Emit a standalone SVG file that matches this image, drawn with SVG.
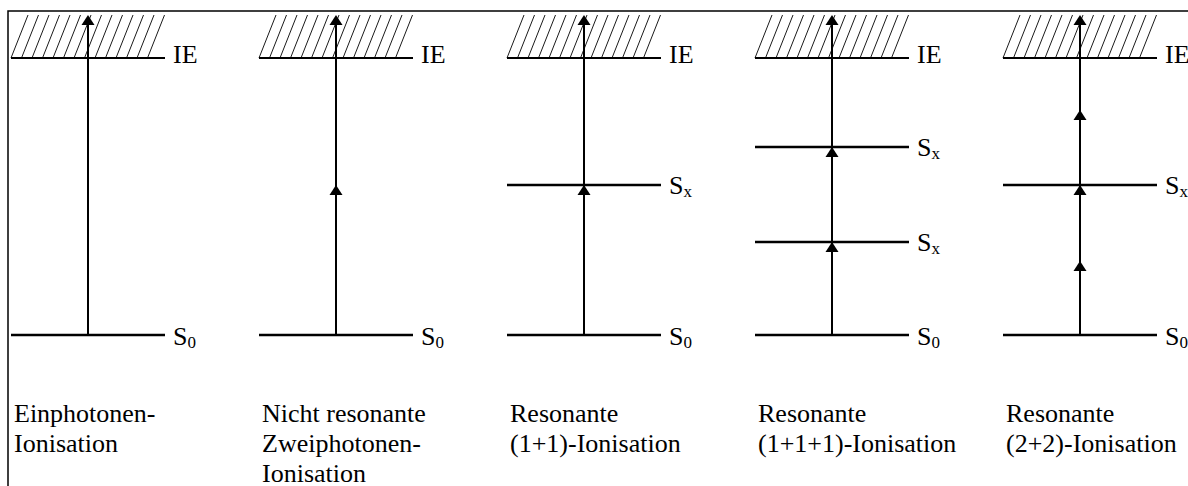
<svg xmlns="http://www.w3.org/2000/svg" xmlns:xlink="http://www.w3.org/1999/xlink" width="1188" height="486" viewBox="0 0 1188 486">
<style>
  .lvl{stroke:#000;stroke-width:2.5;fill:none}
  .ie{stroke:#000;stroke-width:2.2;fill:none}
  .hat{stroke:#000;stroke-width:0.9;fill:none}
  .arr{stroke:#000;stroke-width:2;fill:none}
  .frame{stroke:#000;stroke-width:1.5;fill:none}
  text{font-family:"Liberation Serif","Times New Roman",serif;font-size:26px;fill:#000}
  .sub{font-size:17px}
</style>
<defs>
  <path id="hatch" class="hat" d="M11 58l17-43M21.5 58l17-43M32 58l17-43M42.5 58l17-43M53 58l17-43M63.5 58l17-43M74 58l17-43M84.5 58l17-43M95 58l17-43M105.5 58l17-43M116 58l17-43M126.5 58l17-43M137 58l17-43M147.5 58l17-43"/>
  <path id="ah" d="M0 0L6.5 10H-6.5Z" fill="#000"/>
</defs>
<rect width="1188" height="486" fill="#fff"/>
<path class="frame" d="M8 486V11H1188"/>

<g id="col1">
  <use href="#hatch" x="0"/>
  <line class="ie" x1="11" y1="58" x2="165" y2="58"/>
  <line class="lvl" x1="11" y1="335" x2="165" y2="335"/>
  <text x="173" y="63">IE</text>
  <text x="173" y="345">S<tspan class="sub" dy="3">0</tspan></text>
  <text x="14" y="422">Einphotonen-</text>
  <text x="14" y="452">Ionisation</text>
</g>
<g id="col2">
  <use href="#hatch" x="248"/>
  <line class="ie" x1="259" y1="58" x2="413" y2="58"/>
  <line class="lvl" x1="259" y1="335" x2="413" y2="335"/>
  <text x="421" y="63">IE</text>
  <text x="421" y="345">S<tspan class="sub" dy="3">0</tspan></text>
  <text x="262" y="422">Nicht resonante</text>
  <text x="262" y="452">Zweiphotonen-</text>
  <text x="262" y="482">Ionisation</text>
</g>
<g id="col3">
  <use href="#hatch" x="496"/>
  <line class="ie" x1="507" y1="58" x2="661" y2="58"/>
  <line class="lvl" x1="507" y1="185" x2="661" y2="185"/>
  <line class="lvl" x1="507" y1="335" x2="661" y2="335"/>
  <text x="669" y="63">IE</text>
  <text x="669" y="194">S<tspan class="sub" dy="3">x</tspan></text>
  <text x="669" y="345">S<tspan class="sub" dy="3">0</tspan></text>
  <text x="510" y="422">Resonante</text>
  <text x="510" y="452">(1+1)-Ionisation</text>
</g>
<g id="col4">
  <use href="#hatch" x="744"/>
  <line class="ie" x1="755" y1="58" x2="909" y2="58"/>
  <line class="lvl" x1="755" y1="147" x2="909" y2="147"/>
  <line class="lvl" x1="755" y1="242" x2="909" y2="242"/>
  <line class="lvl" x1="755" y1="335" x2="909" y2="335"/>
  <text x="917" y="63">IE</text>
  <text x="917" y="156">S<tspan class="sub" dy="3">x</tspan></text>
  <text x="917" y="251">S<tspan class="sub" dy="3">x</tspan></text>
  <text x="917" y="345">S<tspan class="sub" dy="3">0</tspan></text>
  <text x="758" y="422">Resonante</text>
  <text x="758" y="452">(1+1+1)-Ionisation</text>
</g>
<g id="col5">
  <use href="#hatch" x="992"/>
  <line class="ie" x1="1003" y1="58" x2="1157" y2="58"/>
  <line class="lvl" x1="1003" y1="185" x2="1157" y2="185"/>
  <line class="lvl" x1="1003" y1="335" x2="1157" y2="335"/>
  <text x="1165" y="63">IE</text>
  <text x="1165" y="194">S<tspan class="sub" dy="3">x</tspan></text>
  <text x="1165" y="345">S<tspan class="sub" dy="3">0</tspan></text>
  <text x="1006" y="422">Resonante</text>
  <text x="1006" y="452">(2+2)-Ionisation</text>
</g>

<g id="connectors">
  <line class="arr" x1="88" y1="335" x2="88" y2="20"/>
  <use href="#ah" x="88" y="15"/>
  <line class="arr" x1="336" y1="335" x2="336" y2="20"/>
  <use href="#ah" x="336" y="15"/>
  <use href="#ah" x="336" y="185"/>
  <line class="arr" x1="584" y1="335" x2="584" y2="20"/>
  <use href="#ah" x="584" y="15"/>
  <use href="#ah" x="584" y="185"/>
  <line class="arr" x1="832" y1="335" x2="832" y2="20"/>
  <use href="#ah" x="832" y="15"/>
  <use href="#ah" x="832" y="147"/>
  <use href="#ah" x="832" y="242"/>
  <line class="arr" x1="1080" y1="335" x2="1080" y2="20"/>
  <use href="#ah" x="1080" y="15"/>
  <use href="#ah" x="1080" y="110"/>
  <use href="#ah" x="1080" y="185"/>
  <use href="#ah" x="1080" y="261"/>
</g>
</svg>
